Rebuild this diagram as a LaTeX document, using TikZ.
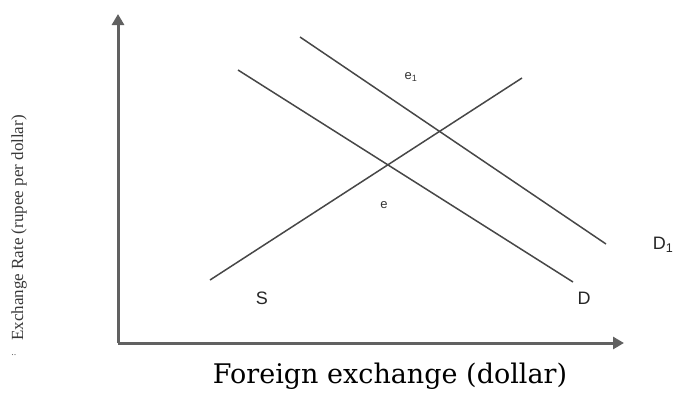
\documentclass[tikz,border=0pt]{standalone}
\usepackage{fontspec}
\setmainfont{Liberation Sans}
\newfontfamily\timesf{Liberation Serif}
\newfontfamily\bigserif{DejaVu Serif}
\usetikzlibrary{arrows.meta}
\begin{document}
\begin{tikzpicture}[x=1pt,y=-1pt,
  axis/.style={draw=black!62,line width=3pt,-{Triangle[length=11pt,width=12pt]}},
  curve/.style={draw=black!72,line width=1.5pt},
  lbl/.style={font=\fontsize{18}{20}\selectfont,text=black!85,inner sep=0pt},
  smlbl/.style={font=\fontsize{13}{14}\selectfont,text=black!80,inner sep=0pt}]
\useasboundingbox (0,0) rectangle (678,397);
\coordinate (o) at (118,343);
\coordinate (ytop) at (118,14);
\coordinate (xend) at (624,343);
\draw[axis] (o) -- (ytop);
\draw[axis] (o) -- (xend);
\coordinate (s1) at (210,280); \coordinate (s2) at (522,78);
\coordinate (d1) at (238,70);  \coordinate (d2) at (573,282);
\coordinate (da) at (300,37);  \coordinate (db) at (606,244);
\draw[curve] (s1) -- (s2);
\draw[curve] (d1) -- (d2);
\draw[curve] (da) -- (db);
\node[smlbl] (e1) at (411,77) {e\textsubscript{1}};
\node[smlbl] (e) at (384,205) {e};
\node[lbl] (S) at (262,298) {S};
\node[lbl] (D) at (584,298) {D};
\node[lbl] (D1) at (663,245) {D\textsubscript{1}};
\node[rotate=90,font=\timesf\fontsize{17}{19}\selectfont,text=black!78,inner sep=0pt] (ylab) at (19,228) {Exchange Rate (rupee per dollar)};
\node[font=\timesf\fontsize{10}{11}\selectfont,text=black!60,inner sep=0pt] (dots) at (14,355) {..};
\node[font=\bigserif\fontsize{27}{30}\selectfont,text=black,inner sep=0pt] (xlab) at (390,376) {Foreign exchange (dollar)};
\end{tikzpicture}
\end{document}
